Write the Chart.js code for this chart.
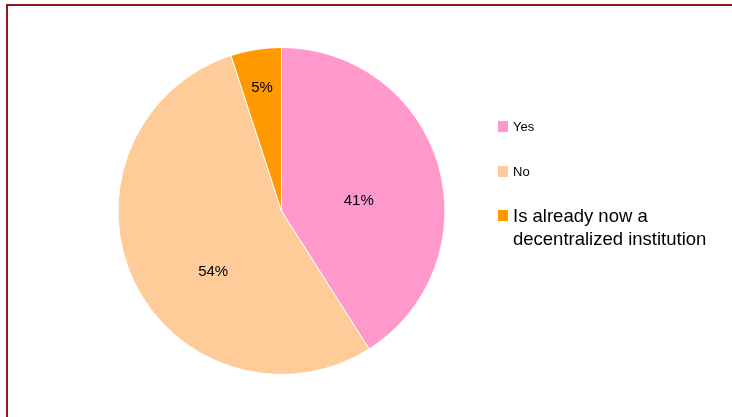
<!DOCTYPE html>
<html>
<head>
<meta charset="utf-8">
<script src="https://cdn.jsdelivr.net/npm/chart.js@4"></script>
<style>
    html, body { margin: 0; padding: 0; background: #fff; }
    #wrap { position: relative; width: 732px; height: 417px; overflow: hidden; }
    #frame {
        position: absolute; left: 6px; top: 4px; right: -10px; bottom: -10px;
        border-top: 2px solid #921a1a; border-left: 2px solid #921a1a;
    }
    canvas { position: absolute; left: 0; top: 0; }
</style>
</head>
<body>
<div id="wrap">
    <div id="frame"></div>
    <canvas id="pieChart" width="732" height="417"></canvas>
</div>
<script>
const categories = ['Yes', 'No', 'Is already now a decentralized institution'];
const shares = [41, 54, 5];
const sliceColors = ['#ff99cc', '#ffcc99', '#ff9900'];

// label placement: fraction of radius and a small turn (degrees) off the slice middle
const labelRadius = [0.476, 0.56, 0.76];
const labelNudge = [9, -16.5, 0];

const FONT = '"Liberation Sans", Arial, sans-serif';

// percentage labels inside the slices
const sliceLabels = {
    id: 'sliceLabels',
    afterDatasetsDraw(chart) {
        const ctx = chart.ctx;
        const meta = chart.getDatasetMeta(0);
        ctx.save();
        ctx.font = '15px ' + FONT;
        ctx.fillStyle = '#000';
        ctx.textAlign = 'center';
        ctx.textBaseline = 'middle';
        meta.data.forEach(function(arc, i) {
            const mid = (arc.startAngle + arc.endAngle) / 2 + labelNudge[i] * Math.PI / 180;
            const r = arc.outerRadius * labelRadius[i];
            const x = arc.x + Math.cos(mid) * r;
            const y = arc.y + Math.sin(mid) * r;
            ctx.fillText(shares[i] + '%', x, y);
        });
        ctx.restore();
    }
};

// legend on the right, last entry is larger and wraps
const sideLegend = {
    id: 'sideLegend',
    afterDraw(chart) {
        const ctx = chart.ctx;
        const left = 498;
        const rows = [
            { top: 121, size: 13, gap: 0, lines: ['Yes'] },
            { top: 166, size: 13, gap: 0, lines: ['No'] },
            { top: 210, size: 18.5, gap: 23, lines: ['Is already now a', 'decentralized institution'] }
        ];
        ctx.save();
        ctx.textBaseline = 'alphabetic';
        rows.forEach(function(row, i) {
            ctx.fillStyle = chart.data.datasets[0].backgroundColor[i];
            ctx.fillRect(left, row.top, 10, 11);
            ctx.fillStyle = '#000';
            ctx.font = row.size + 'px ' + FONT;
            const base = row.top + 10 + (row.size > 13 ? 2 : 0);
            row.lines.forEach(function(line, j) {
                ctx.fillText(line, left + 15, base + j * row.gap);
            });
        });
        ctx.restore();
    }
};

new Chart(document.getElementById('pieChart').getContext('2d'), {
    type: 'pie',
    data: {
        labels: categories,
        datasets: [{
            data: shares,
            backgroundColor: sliceColors,
            borderColor: '#ffffff',
            borderWidth: 1
        }]
    },
    options: {
        responsive: false,
        animation: false,
        layout: {
            padding: { top: 47, bottom: 42, left: 117, right: 286 }
        },
        plugins: {
            legend: { display: false },
            tooltip: { enabled: false }
        }
    },
    plugins: [sliceLabels, sideLegend]
});
</script>
</body>
</html>
